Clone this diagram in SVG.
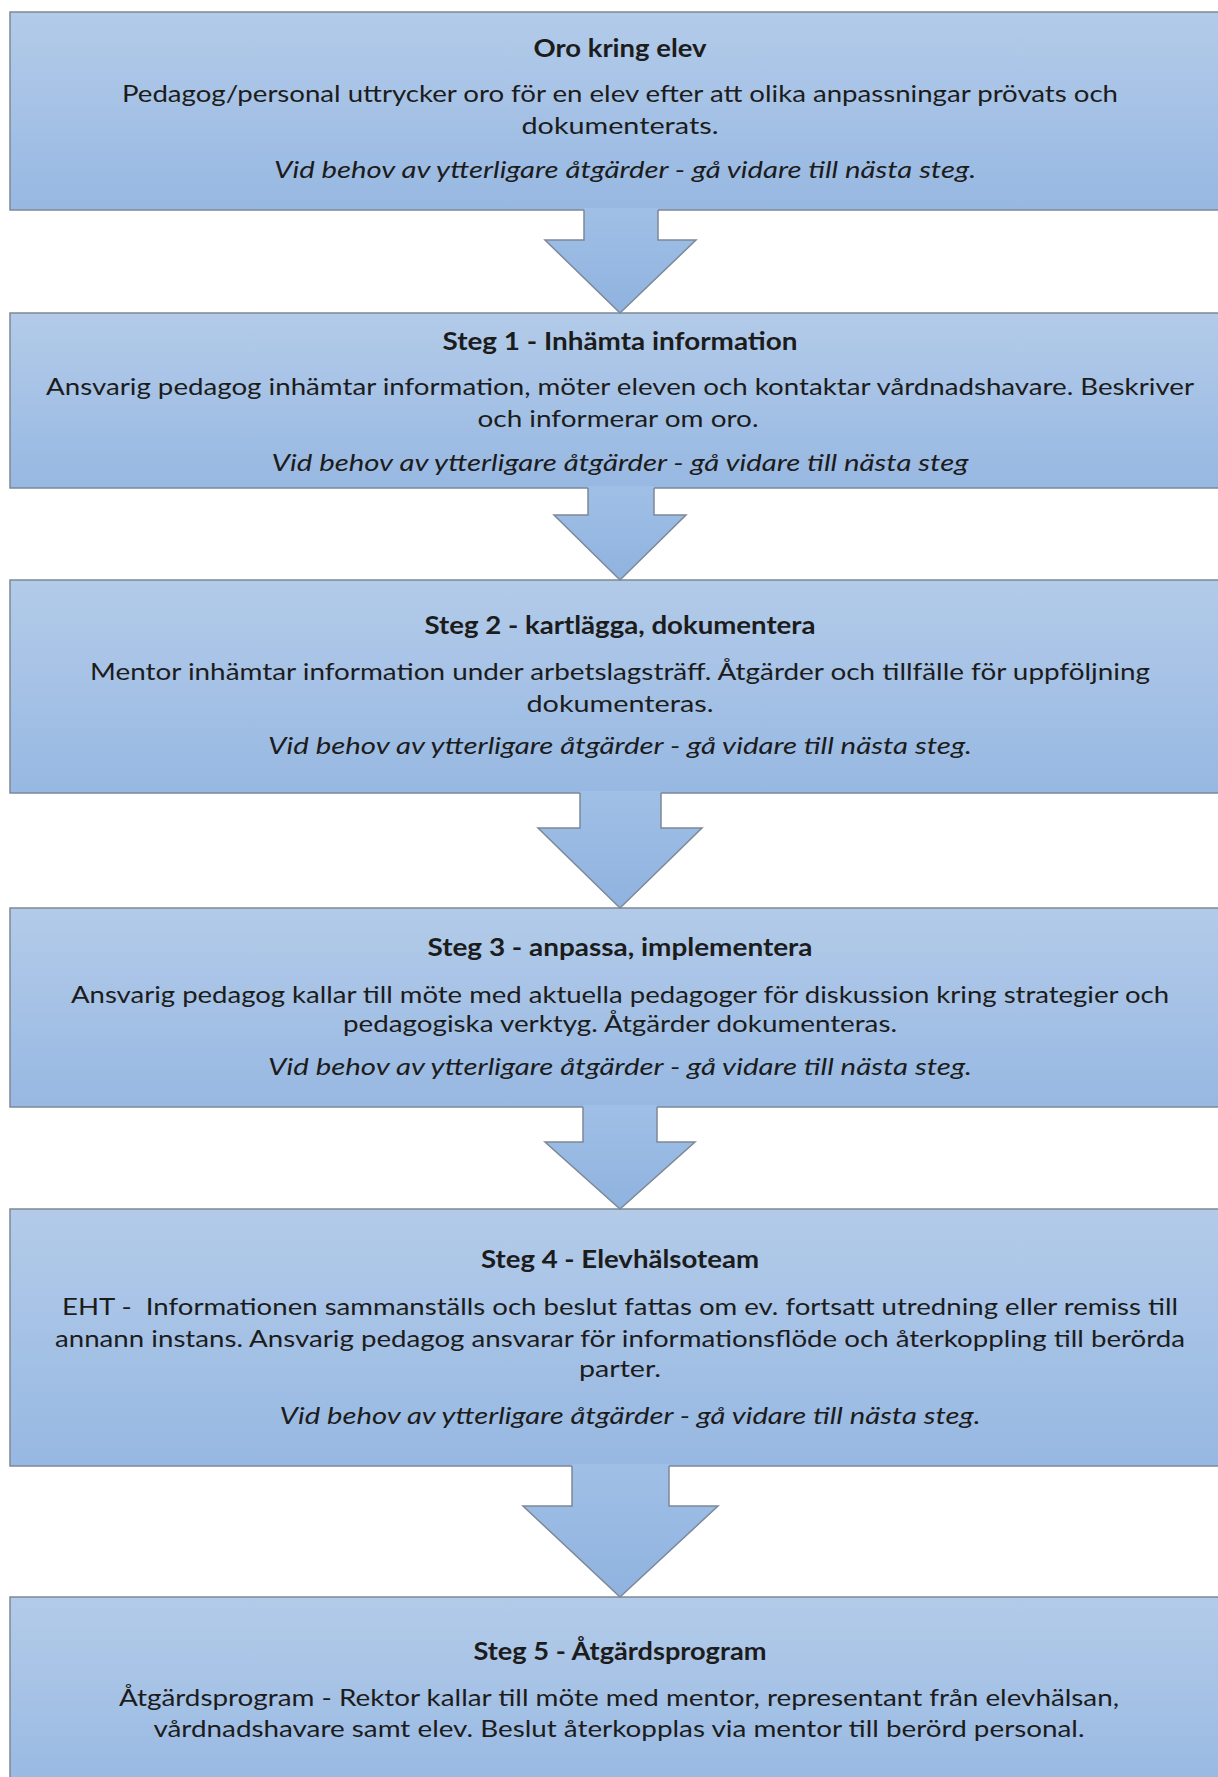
<svg xmlns="http://www.w3.org/2000/svg" width="1218" height="1777" viewBox="0 0 1218 1777">
<defs>
<linearGradient id="boxFill" x1="0" y1="0" x2="0" y2="1">
<stop offset="0" stop-color="#b3cbe9"/>
<stop offset="1" stop-color="#97b8e2"/>
</linearGradient>
<linearGradient id="arrowFill" x1="0" y1="0" x2="0" y2="1">
<stop offset="0" stop-color="#a0bfe6"/>
<stop offset="1" stop-color="#8fb3df"/>
</linearGradient>
</defs>
<style>
.box{fill:url(#boxFill);stroke:#7d8898;stroke-width:1.5}
.afill{fill:url(#arrowFill);stroke:none}
.aline{fill:none;stroke:#7d8898;stroke-width:1.5;stroke-linejoin:miter}
text{font-family:Lato,"Open Sans","Liberation Sans",sans-serif;font-size:24px;fill:#1c1c1c;text-anchor:middle}
.t{font-weight:bold}
.i{font-style:italic}
</style>
<rect width="1218" height="1777" fill="#ffffff"/>
<g id="node-oro">
<rect class="box" x="10" y="12" width="1230" height="198"/>
<text class="t" x="620" y="57" textLength="173" lengthAdjust="spacingAndGlyphs">Oro kring elev</text>
<text x="620" y="102" textLength="996" lengthAdjust="spacingAndGlyphs">Pedagog/personal uttrycker oro för en elev efter att olika anpassningar prövats och</text>
<text x="620" y="134" textLength="197" lengthAdjust="spacingAndGlyphs">dokumenterats.</text>
<text class="i" x="625" y="178" textLength="702" lengthAdjust="spacingAndGlyphs">Vid behov av ytterligare åtgärder - gå vidare till nästa steg.</text>
</g>
<g id="node-steg1">
<rect class="box" x="10" y="313" width="1230" height="175"/>
<text class="t" x="620" y="350" textLength="355" lengthAdjust="spacingAndGlyphs">Steg 1 - Inhämta information</text>
<text x="620" y="395" textLength="1148" lengthAdjust="spacingAndGlyphs">Ansvarig pedagog inhämtar information, möter eleven och kontaktar vårdnadshavare. Beskriver</text>
<text x="618" y="427" textLength="281" lengthAdjust="spacingAndGlyphs">och informerar om oro.</text>
<text class="i" x="620" y="471" textLength="697" lengthAdjust="spacingAndGlyphs">Vid behov av ytterligare åtgärder - gå vidare till nästa steg</text>
</g>
<g id="node-steg2">
<rect class="box" x="10" y="580" width="1230" height="213"/>
<text class="t" x="620" y="634" textLength="391" lengthAdjust="spacingAndGlyphs">Steg 2 - kartlägga, dokumentera</text>
<text x="620" y="680" textLength="1060" lengthAdjust="spacingAndGlyphs">Mentor inhämtar information under arbetslagsträff. Åtgärder och tillfälle för uppföljning</text>
<text x="620" y="712" textLength="187" lengthAdjust="spacingAndGlyphs">dokumenteras.</text>
<text class="i" x="620" y="754" textLength="704" lengthAdjust="spacingAndGlyphs">Vid behov av ytterligare åtgärder - gå vidare till nästa steg.</text>
</g>
<g id="node-steg3">
<rect class="box" x="10" y="908" width="1230" height="199"/>
<text class="t" x="620" y="956" textLength="385" lengthAdjust="spacingAndGlyphs">Steg 3 - anpassa, implementera</text>
<text x="620" y="1003" textLength="1098" lengthAdjust="spacingAndGlyphs">Ansvarig pedagog kallar till möte med aktuella pedagoger för diskussion kring strategier och</text>
<text x="620" y="1032" textLength="554" lengthAdjust="spacingAndGlyphs">pedagogiska verktyg. Åtgärder dokumenteras.</text>
<text class="i" x="620" y="1075" textLength="704" lengthAdjust="spacingAndGlyphs">Vid behov av ytterligare åtgärder - gå vidare till nästa steg.</text>
</g>
<g id="node-steg4">
<rect class="box" x="10" y="1209" width="1230" height="257"/>
<text class="t" x="620" y="1268" textLength="278" lengthAdjust="spacingAndGlyphs">Steg 4 - Elevhälsoteam</text>
<text x="620" y="1315" textLength="1116" lengthAdjust="spacingAndGlyphs" xml:space="preserve">EHT -  Informationen sammanställs och beslut fattas om ev. fortsatt utredning eller remiss till</text>
<text x="620" y="1347" textLength="1130" lengthAdjust="spacingAndGlyphs">annann instans. Ansvarig pedagog ansvarar för informationsflöde och återkoppling till berörda</text>
<text x="620" y="1377" textLength="82" lengthAdjust="spacingAndGlyphs">parter.</text>
<text class="i" x="630" y="1424" textLength="701" lengthAdjust="spacingAndGlyphs">Vid behov av ytterligare åtgärder - gå vidare till nästa steg.</text>
</g>
<g id="node-steg5">
<rect class="box" x="10" y="1597" width="1230" height="200"/>
<text class="t" x="620" y="1660" textLength="293" lengthAdjust="spacingAndGlyphs">Steg 5 - Åtgärdsprogram</text>
<text x="619" y="1706" textLength="1000" lengthAdjust="spacingAndGlyphs">Åtgärdsprogram - Rektor kallar till möte med mentor, representant från elevhälsan,</text>
<text x="619" y="1737" textLength="931" lengthAdjust="spacingAndGlyphs">vårdnadshavare samt elev. Beslut återkopplas via mentor till berörd personal.</text>
</g>
<g id="connectors">
<g id="arrow-1">
<polygon class="afill" points="584,208 658,208 658,240 696,240 620,313 545,240 584,240"/>
<polyline class="aline" points="584,210 584,240 545,240 620,313 696,240 658,240 658,210"/>
</g>
<g id="arrow-2">
<polygon class="afill" points="588,486 654,486 654,515 686,515 620,580 554,515 588,515"/>
<polyline class="aline" points="588,488 588,515 554,515 620,580 686,515 654,515 654,488"/>
</g>
<g id="arrow-3">
<polygon class="afill" points="580,791 661,791 661,828 702,828 620,908 538,828 580,828"/>
<polyline class="aline" points="580,793 580,828 538,828 620,908 702,828 661,828 661,793"/>
</g>
<g id="arrow-4">
<polygon class="afill" points="583,1105 657,1105 657,1142 695,1142 620,1209 545,1142 583,1142"/>
<polyline class="aline" points="583,1107 583,1142 545,1142 620,1209 695,1142 657,1142 657,1107"/>
</g>
<g id="arrow-5">
<polygon class="afill" points="572,1464 669,1464 669,1506 718,1506 620,1597 523,1506 572,1506"/>
<polyline class="aline" points="572,1466 572,1506 523,1506 620,1597 718,1506 669,1506 669,1466"/>
</g>
</g>
</svg>
